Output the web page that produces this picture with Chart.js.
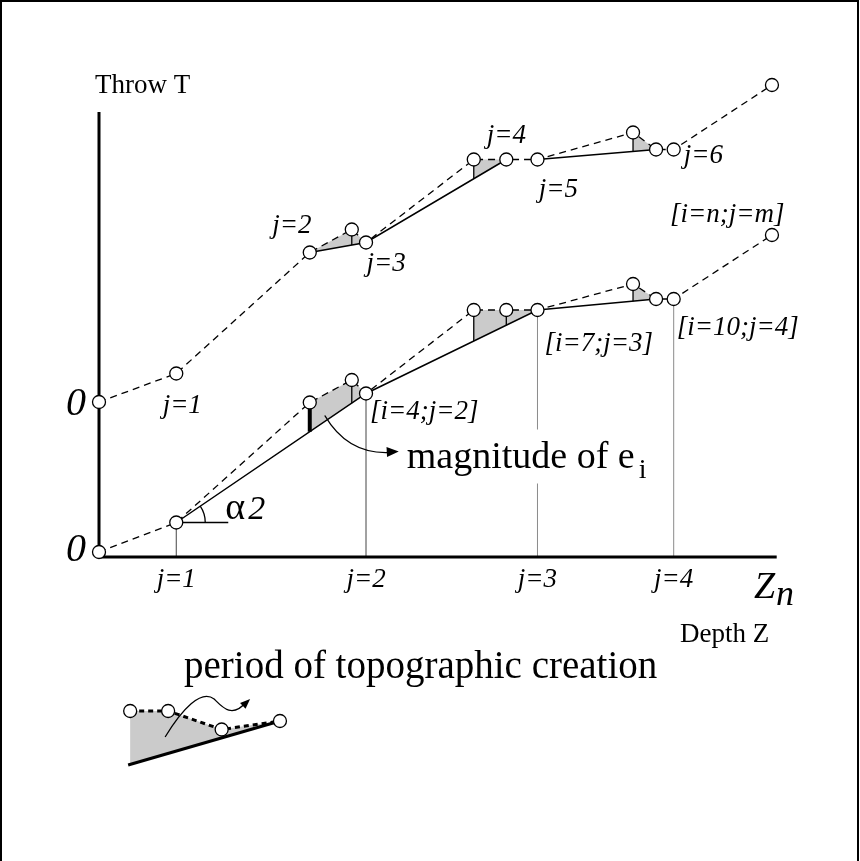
<!DOCTYPE html>
<html>
<head>
<meta charset="utf-8">
<script src="https://cdn.jsdelivr.net/npm/chart.js@4"></script>
<style>
  html, body { margin: 0; padding: 0; background: #fff; }
  #wrap { width: 860px; height: 861px; }
</style>
</head>
<body>
<div id="wrap"><canvas id="chart" width="860" height="861"></canvas></div>
<script>
// depth of each observation point i (arbitrary units, 0..100)
const depth = [0, 11.4, 31.1, 37.3, 39.4, 55.3, 60.1, 64.7, 78.8, 82.2, 84.8, 99.3];
// throw at each point, lower profile and the same profile shifted up
const throwLower = [0, 5.9, 29.9, 34.4, 31.7, 48.4, 48.4, 48.4, 53.6, 50.6, 50.6, 63.4];
const throwUpper = [30, 35.7, 59.9, 64.5, 61.9, 78.5, 78.5, 78.5, 83.9, 80.5, 80.5, 93.4];

// indices of points joined by the solid (corrected) line
const solidLower = [[1, 4, 7, 9]];
const solidUpper = [[2, 4, 6], [7, 9]];
// shaded periods (from index, to index) and points that drop a bar to the solid line
const shadeLower = [[2, 4], [5, 7], [8, 9]];
const shadeUpper = [[2, 4], [5, 6], [8, 9]];
const dropLower = [2, 3, 5, 6, 8];
const dropUpper = [3, 5, 8];

// axis extent
const depthAxisMax = 100;
const throwAxisMin = -1;
const throwAxisMax = 88;

// x axis tick labels (at lower profile j points)
const tickIdx = [1, 4, 7, 10];
const tickLabels = ['j=1', 'j=2', 'j=3', 'j=4'];
// labels of the upper profile
const upperIdx = [1, 2, 4, 6, 7, 10];
const upperLabels = ['j=1', 'j=2', 'j=3', 'j=4', 'j=5', 'j=6'];
// labels of the lower profile
const lowerIdx = [4, 7, 10, 11];
const lowerLabels = ['[i=4;j=2]', '[i=7;j=3]', '[i=10;j=4]', '[i=n;j=m]'];

// small legend sketch under the chart
const insetDepth = [4.6, 10.2, 18.1, 26.7];
const insetThrow = [-31.8, -31.8, -35.5, -33.8];
const insetBaseDepth = [4.3, 26.7];
const insetBaseThrow = [-42.6, -33.8];

const SERIF = "'Liberation Serif', 'Times New Roman', serif";
const GRAY = '#cbcbcb';

function pts(xs, ys) {
    return xs.map((x, i) => ({x: x, y: ys[i]}));
}
function solidPts(pieces, ys) {
    let out = [];
    pieces.forEach((p, k) => {
        if (k > 0) out.push({x: depth[p[0]] - 0.5, y: null});
        p.forEach(i => out.push({x: depth[i], y: ys[i]}));
    });
    return out;
}
function solidAt(pieces, ys, xv) {
    for (const p of pieces) {
        for (let k = 0; k < p.length - 1; k++) {
            const a = p[k], b = p[k + 1];
            if (xv >= depth[a] - 1e-9 && xv <= depth[b] + 1e-9) {
                return ys[a] + (ys[b] - ys[a]) * (xv - depth[a]) / (depth[b] - depth[a]);
            }
        }
    }
    return null;
}

const dashedStyle = {
    borderColor: '#000',
    borderWidth: 1.3,
    borderDash: [7, 5],
    pointRadius: 6.5,
    pointBackgroundColor: '#fff',
    pointBorderColor: '#000',
    pointBorderWidth: 1.3,
    clip: false,
    tension: 0
};
const solidStyle = {
    borderColor: '#000',
    borderWidth: 1.5,
    pointRadius: 0,
    clip: false,
    spanGaps: false,
    tension: 0
};

function text(ctx, str, x, y, font, align) {
    ctx.font = font;
    ctx.textAlign = align || 'left';
    ctx.fillText(str, x, y);
}
function arrowHead(ctx, x, y, ang, len, half) {
    ctx.beginPath();
    ctx.moveTo(x, y);
    ctx.lineTo(x - len * Math.cos(ang) + half * Math.sin(ang), y - len * Math.sin(ang) - half * Math.cos(ang));
    ctx.lineTo(x - len * Math.cos(ang) - half * Math.sin(ang), y - len * Math.sin(ang) + half * Math.cos(ang));
    ctx.closePath();
    ctx.fill();
}

const sketch = {
    id: 'sketch',
    beforeDatasetsDraw(chart) {
        const {ctx, scales: {x, y}} = chart;
        const X = v => x.getPixelForValue(v), Y = v => y.getPixelForValue(v);
        const left = X(0), right = X(depthAxisMax), top = Y(throwAxisMax), bottom = Y(throwAxisMin);
        ctx.save();
        // frame
        ctx.strokeStyle = '#000';
        ctx.lineWidth = 2;
        ctx.strokeRect(1, 1, 857, 880);

        // shaded periods
        ctx.fillStyle = GRAY;
        [[throwLower, solidLower, shadeLower], [throwUpper, solidUpper, shadeUpper]].forEach(([ys, pcs, shades]) => {
            shades.forEach(([s, e]) => {
                ctx.beginPath();
                for (let i = s; i <= e; i++) ctx.lineTo(X(depth[i]), Y(ys[i]));
                ctx.lineTo(X(depth[e]), Y(solidAt(pcs, ys, depth[e])));
                ctx.lineTo(X(depth[s]), Y(solidAt(pcs, ys, depth[s])));
                ctx.closePath();
                ctx.fill();
            });
        });
        // inset shading
        ctx.beginPath();
        insetDepth.forEach((d, i) => ctx.lineTo(X(d), Y(insetThrow[i])));
        const bAt = d => insetBaseThrow[0] + (insetBaseThrow[1] - insetBaseThrow[0]) * (d - insetBaseDepth[0]) / (insetBaseDepth[1] - insetBaseDepth[0]);
        ctx.lineTo(X(insetDepth[3]), Y(bAt(insetDepth[3])));
        ctx.lineTo(X(insetDepth[0]), Y(bAt(insetDepth[0])));
        ctx.closePath();
        ctx.fill();

        // drops to the solid line
        ctx.strokeStyle = '#000';
        [[throwLower, solidLower, dropLower], [throwUpper, solidUpper, dropUpper]].forEach(([ys, pcs, drops], s) => {
            drops.forEach((i, k) => {
                ctx.lineWidth = (s === 0 && k === 0) ? 4 : 1.3;
                ctx.beginPath();
                ctx.moveTo(X(depth[i]), Y(ys[i]));
                ctx.lineTo(X(depth[i]), Y(solidAt(pcs, ys, depth[i])));
                ctx.stroke();
            });
        });

        // guide lines down to the depth axis
        ctx.lineWidth = 1;
        tickIdx.forEach((i, k) => {
            ctx.strokeStyle = k < 2 ? '#444' : '#8a8a8a';
            ctx.beginPath();
            ctx.moveTo(X(depth[i]), Y(throwLower[i]));
            ctx.lineTo(X(depth[i]), bottom);
            ctx.stroke();
        });

        // alpha angle
        const j1x = X(depth[1]), j1y = Y(throwLower[1]);
        const ang = Math.atan2(Y(throwLower[4]) - j1y, X(depth[4]) - j1x);
        ctx.strokeStyle = '#000';
        ctx.lineWidth = 1.3;
        ctx.beginPath();
        ctx.moveTo(j1x, j1y);
        ctx.lineTo(j1x + 52, j1y);
        ctx.stroke();
        ctx.beginPath();
        ctx.arc(j1x, j1y, 29, ang, 0);
        ctx.stroke();

        // axes
        ctx.strokeStyle = '#000';
        ctx.lineWidth = 3;
        ctx.beginPath();
        ctx.moveTo(left, top);
        ctx.lineTo(left, bottom + 1.5);
        ctx.moveTo(left - 1.5, bottom);
        ctx.lineTo(right, bottom);
        ctx.stroke();
        ctx.restore();
    },
    afterDatasetsDraw(chart) {
        const {ctx, scales: {x, y}} = chart;
        const X = v => x.getPixelForValue(v), Y = v => y.getPixelForValue(v);
        const left = X(0), bottom = Y(throwAxisMin), top = Y(throwAxisMax);
        ctx.save();
        ctx.fillStyle = '#000';
        ctx.textBaseline = 'alphabetic';
        const ital = px => 'italic ' + px + 'px ' + SERIF;
        const reg = px => px + 'px ' + SERIF;

        text(ctx, 'Throw T', left - 4, top - 19, reg(27));
        text(ctx, 'Depth Z', 680, bottom + 85, reg(27));
        text(ctx, 'Z', 754, bottom + 41, ital(38));
        text(ctx, 'n', 776, bottom + 48, ital(36));
        text(ctx, '0', left - 13, Y(throwUpper[0]) + 13, ital(40), 'right');
        text(ctx, '0', left - 13, Y(throwLower[0]) + 9, ital(40), 'right');

        tickIdx.forEach((i, k) => text(ctx, tickLabels[k], X(depth[i]), bottom + 30, ital(27), 'center'));

        const upOff = [[6, 39, 'center'], [-18, -20, 'center'], [20, 28, 'center'], [0, -17, 'center'], [21, 37, 'center'], [10, 13, 'left']];
        upperIdx.forEach((i, k) => {
            const o = upOff[k];
            text(ctx, upperLabels[k], X(depth[i]) + o[0], Y(throwUpper[i]) + o[1], ital(27), o[2]);
        });
        const lowOff = [[4, 25], [7, 41], [3, 36], [-102, -13]];
        lowerIdx.forEach((i, k) => {
            const o = lowOff[k];
            text(ctx, lowerLabels[k], X(depth[i]) + o[0], Y(throwLower[i]) + o[1], ital(27), 'left');
        });

        // alpha 2
        const j1x = X(depth[1]), j1y = Y(throwLower[1]);
        text(ctx, 'α', j1x + 49, j1y - 4, reg(38));
        text(ctx, '2', j1x + 72, j1y - 4, ital(34));

        // magnitude of e_i
        const ex = X(depth[2]), ey = Y(throwLower[2]);
        ctx.font = reg(38);
        const w = ctx.measureText('magnitude of e').width;
        const tx = ex + 97, ty = ey + 65;
        ctx.fillStyle = '#fff';
        ctx.fillRect(tx - 2, ty - 38, w + 22, 54);
        ctx.fillStyle = '#000';
        text(ctx, 'magnitude of e', tx, ty, reg(38));
        text(ctx, 'i', tx + w + 4, ty + 10, reg(28));
        ctx.strokeStyle = '#000';
        ctx.lineWidth = 1.4;
        ctx.beginPath();
        ctx.moveTo(ex + 15, ey + 13);
        ctx.quadraticCurveTo(ex + 38, ey + 52, ex + 80, ey + 50);
        ctx.stroke();
        arrowHead(ctx, ex + 89, ey + 49, -0.05, 12, 5);

        // inset
        text(ctx, 'period of topographic creation', 184, 678, reg(39));
        const bx = X(insetDepth[1]), by = Y(insetThrow[1]);
        ctx.lineWidth = 1.3;
        ctx.beginPath();
        ctx.moveTo(bx - 3, by + 26);
        ctx.bezierCurveTo(bx + 14, by - 2, bx + 33, by - 22, bx + 46, by - 12);
        ctx.bezierCurveTo(bx + 54, by - 4, bx + 64, by + 8, bx + 78, by - 9);
        ctx.stroke();
        arrowHead(ctx, bx + 82, by - 12, -0.75, 10, 4);
        ctx.restore();
    }
};

// plot area is larger than the drawn axes so that the end point and the inset fit inside
new Chart(document.getElementById('chart'), {
    type: 'line',
    data: {
        datasets: [
            Object.assign({data: pts(depth, throwUpper)}, dashedStyle),
            Object.assign({data: pts(depth, throwLower)}, dashedStyle),
            Object.assign({data: pts(insetDepth, insetThrow)}, dashedStyle, {borderWidth: 3, borderDash: [5, 4]}),
            Object.assign({data: solidPts(solidUpper, throwUpper)}, solidStyle),
            Object.assign({data: solidPts(solidLower, throwLower)}, solidStyle),
            Object.assign({data: pts(insetBaseDepth, insetBaseThrow)}, solidStyle, {borderWidth: 3})
        ]
    },
    options: {
        responsive: false,
        animation: false,
        events: [],
        layout: {padding: {left: 99, right: 20, top: 60, bottom: 40}},
        scales: {
            x: {type: 'linear', min: 0, max: 109.34, display: false},
            y: {type: 'linear', min: -53.8, max: 98.4, display: false}
        },
        plugins: {legend: {display: false}, tooltip: {enabled: false}}
    },
    plugins: [sketch]
});
</script>
</body>
</html>
